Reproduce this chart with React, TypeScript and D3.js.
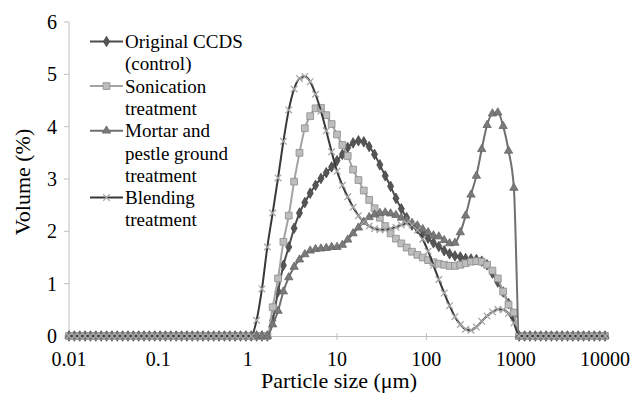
import React from 'react';
import * as d3 from 'd3';

// particle size classes (um), log spaced as exported from the analyser
const sizes = [
  0.01, 0.01148, 0.01318, 0.01514, 0.01738, 0.01995, 0.02291, 0.0263, 0.0302, 0.03467,
  0.03981, 0.04571, 0.05248, 0.06026, 0.06918, 0.07943, 0.0912, 0.1047, 0.1202, 0.138,
  0.1585, 0.182, 0.2089, 0.2399, 0.2754, 0.3162, 0.3631, 0.4169, 0.4786, 0.5495,
  0.631, 0.7244, 0.8318, 0.955, 1.096, 1.259, 1.445, 1.66, 1.905, 2.188,
  2.512, 2.884, 3.311, 3.802, 4.365, 5.012, 5.754, 6.607, 7.586, 8.71,
  10, 11.48, 13.18, 15.14, 17.38, 19.95, 22.91, 26.3, 30.2, 34.67,
  39.81, 45.71, 52.48, 60.26, 69.18, 79.43, 91.2, 104.7, 120.2, 138,
  158.5, 182, 208.9, 239.9, 275.4, 316.2, 363.1, 416.9, 478.6, 549.5,
  631, 724.4, 831.8, 955, 1096, 1259, 1445, 1660, 1905, 2188,
  2512, 2884, 3311, 3802, 4365, 5012, 5754, 6607, 7586, 8710,
  10000
];

const original = [
  0, 0, 0, 0, 0, 0, 0, 0, 0, 0,
  0, 0, 0, 0, 0, 0, 0, 0, 0, 0,
  0, 0, 0, 0, 0, 0, 0, 0, 0, 0,
  0, 0, 0, 0, 0, 0, 0, 0, 0.3, 0.85,
  1.35, 1.7, 2.06, 2.35, 2.55, 2.73, 2.88, 3.01, 3.12, 3.23,
  3.35, 3.47, 3.6, 3.69, 3.73, 3.71, 3.62, 3.47, 3.27, 3.06,
  2.86, 2.63, 2.43, 2.26, 2.12, 2.05, 1.97, 1.87, 1.78, 1.71,
  1.63, 1.57, 1.53, 1.51, 1.48, 1.47, 1.46, 1.43, 1.36, 1.2,
  1.03, 0.84, 0.62, 0.38, 0, 0, 0, 0, 0, 0,
  0, 0, 0, 0, 0, 0, 0, 0, 0, 0,
  0
];

const sonication = [
  0, 0, 0, 0, 0, 0, 0, 0, 0, 0,
  0, 0, 0, 0, 0, 0, 0, 0, 0, 0,
  0, 0, 0, 0, 0, 0, 0, 0, 0, 0,
  0, 0, 0, 0, 0, 0, 0, 0, 0.55, 1.1,
  1.8, 2.3, 2.95, 3.5, 3.97, 4.2, 4.35, 4.36, 4.22, 4.05,
  3.85, 3.65, 3.44, 3.18, 2.98, 2.78, 2.6, 2.44, 2.26, 2.1,
  1.96, 1.86, 1.77, 1.69, 1.61, 1.55, 1.5, 1.45, 1.41, 1.38,
  1.36, 1.34, 1.34, 1.36, 1.39, 1.42, 1.43, 1.42, 1.36, 1.25,
  1.1, 0.85, 0.6, 0.45, 0, 0, 0, 0, 0, 0,
  0, 0, 0, 0, 0, 0, 0, 0, 0, 0,
  0
];

const mortar = [
  0, 0, 0, 0, 0, 0, 0, 0, 0, 0,
  0, 0, 0, 0, 0, 0, 0, 0, 0, 0,
  0, 0, 0, 0, 0, 0, 0, 0, 0, 0,
  0, 0, 0, 0, 0, 0, 0, 0, 0.22, 0.48,
  0.85, 1.12, 1.32, 1.46, 1.56, 1.63, 1.66, 1.67, 1.68, 1.7,
  1.7, 1.74, 1.84, 1.96, 2.07, 2.18, 2.27, 2.32, 2.35, 2.36,
  2.34, 2.31, 2.26, 2.21, 2.16, 2.11, 2.04, 1.98, 1.92, 1.9,
  1.83, 1.77, 1.78, 1.98, 2.3, 2.7, 3.06, 3.57, 4.03, 4.25,
  4.27, 4.01, 3.54, 2.83, 0, 0, 0, 0, 0, 0,
  0, 0, 0, 0, 0, 0, 0, 0, 0, 0,
  0
];

const blending = [
  0, 0, 0, 0, 0, 0, 0, 0, 0, 0,
  0, 0, 0, 0, 0, 0, 0, 0, 0, 0,
  0, 0, 0, 0, 0, 0, 0, 0, 0, 0,
  0, 0, 0, 0, 0, 0.3, 0.9, 1.7, 2.35, 3.02,
  3.72, 4.32, 4.72, 4.92, 4.96, 4.86, 4.62, 4.3, 3.92, 3.52,
  3.15, 2.88, 2.66, 2.46, 2.3, 2.18, 2.1, 2.05, 2.03, 2.03,
  2.05, 2.08, 2.12, 2.15, 2.12, 2.02, 1.85, 1.62, 1.35, 1.08,
  0.82, 0.58, 0.37, 0.22, 0.13, 0.11, 0.17, 0.28, 0.38, 0.46,
  0.51, 0.5, 0.43, 0.25, 0, 0, 0, 0, 0, 0,
  0, 0, 0, 0, 0, 0, 0, 0, 0, 0,
  0
];

const yTicks = [0, 1, 2, 3, 4, 5, 6];
const xTicks = [0.01, 0.1, 1, 10, 100, 1000, 10000];
const xTickLabels = ['0.01', '0.1', '1', '10', '100', '1000', '10000'];
const legendLabels = [
  ['Original CCDS', '(control)'],
  ['Sonication', 'treatment'],
  ['Mortar and', 'pestle ground', 'treatment'],
  ['Blending', 'treatment']
];

const axisColor = '#bfbfbf';
const fontCss = '.lsd-chart text { font-family: "Liberation Serif", serif !important; }';

const series = [
  { values: original, line: '#4d4d4d', symbol: d3.symbolDiamond, size: 32, fill: '#555555', stroke: '#474747' },
  { values: sonication, line: '#a3a3a3', symbol: d3.symbolSquare, size: 46, fill: '#bdbdbd', stroke: '#8c8c8c' },
  { values: mortar, line: '#707070', symbol: d3.symbolTriangle, size: 30, fill: '#7a7a7a', stroke: '#666666' },
  { values: blending, line: '#383838', symbol: d3.symbolX, size: 30, fill: 'none', stroke: '#a8a8a8' }
];

export default function App() {
  const width = 633,
    height = 400;
  const x = d3.scaleLog().domain([0.01, 10000]).range([69, 605]);
  const y = d3.scaleLinear().domain([0, 6]).range([336, 22]);

  const line = d3
    .line<number>()
    .x((d, i) => x(sizes[i]))
    .y(d => y(d))
    .curve(d3.curveMonotoneX);

  const legendX = 125,
    lineH = 22.3;
  let row = 0;
  const legendRows = legendLabels.map(lines => {
    const start = row;
    row += lines.length;
    return start;
  });

  return (
    <div style={{ position: 'absolute', left: 0, top: 0 }}>
      <style>{fontCss}</style>
      <svg className="lsd-chart" width={width} height={height}>
        <rect width={width} height={height} fill="#fff" />
        {/* axes */}
        <line x1={x(0.01)} x2={x(0.01)} y1={y(6)} y2={y(0)} stroke={axisColor} strokeWidth={1} />
        <line x1={x(0.01)} x2={x(10000)} y1={y(0) + 0.5} y2={y(0) + 0.5} stroke={axisColor} strokeWidth={1} />
        {yTicks.map(t => (
          <g key={'y' + t}>
            <line x1={x(0.01) - 5} x2={x(0.01)} y1={y(t)} y2={y(t)} stroke={axisColor} />
            <text x={57} y={y(t) + 7} textAnchor="end" fontSize={20} fill="#000">
              {t}
            </text>
          </g>
        ))}
        {xTicks.map((t, i) => (
          <g key={'x' + t}>
            <line x1={x(t)} x2={x(t)} y1={y(0) - 3} y2={y(0) + 4} stroke={axisColor} />
            <text x={x(t)} y={365.5} textAnchor="middle" fontSize={20} fill="#000">
              {xTickLabels[i]}
            </text>
          </g>
        ))}
        <text x={339} y={388} textAnchor="middle" fontSize={22} fill="#000">
          Particle size (μm)
        </text>
        <text transform="translate(30,182) rotate(-90)" textAnchor="middle" fontSize={22} fill="#000">
          Volume (%)
        </text>

        {/* series */}
        {series.map((s, si) => (
          <g key={'s' + si}>
            <path d={line(s.values) || ''} fill="none" stroke={s.line} strokeWidth={2} />
            {s.values.map((v, i) => (
              <path
                key={i}
                transform={`translate(${x(sizes[i])},${y(v)})`}
                d={d3.symbol().type(s.symbol).size(s.size)() || ''}
                fill={s.fill}
                stroke={s.stroke}
                strokeWidth={s.fill === 'none' ? 1.3 : 0.8}
              />
            ))}
          </g>
        ))}

        {/* legend */}
        {legendLabels.map((lines, li) => {
          const base = 48 + legendRows[li] * lineH;
          const s = series[li];
          return (
            <g key={'l' + li}>
              <line x1={90} x2={123} y1={base - 6.5} y2={base - 6.5} stroke={s.line} strokeWidth={2} />
              <path
                transform={`translate(106.5,${base - 6.5})`}
                d={d3.symbol().type(s.symbol).size(s.size)() || ''}
                fill={s.fill}
                stroke={s.stroke}
                strokeWidth={s.fill === 'none' ? 1.3 : 0.8}
              />
              {lines.map((t, k) => (
                <text key={k} x={legendX} y={base + k * lineH} fontSize={19} fill="#000">
                  {t}
                </text>
              ))}
            </g>
          );
        })}
      </svg>
    </div>
  );
}
